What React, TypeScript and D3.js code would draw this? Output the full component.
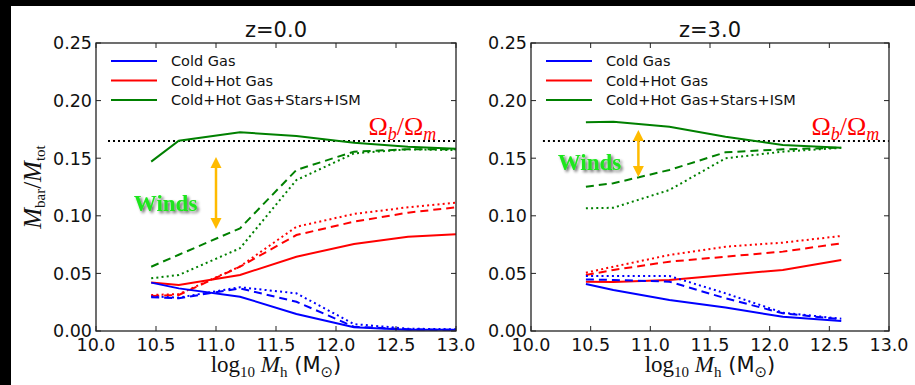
import React from "react";
import * as d3 from "d3";

const WIDTH = 915;
const HEIGHT = 385;

// Halo-mass bins (log10 Mh) for each redshift
const massBinsZ0 = [10.46, 10.69, 11.2, 11.67, 12.15, 12.6, 13.0];
const massBinsZ3 = [10.46, 10.69, 11.16, 11.63, 12.11, 12.6];

// z = 0.0 baryon fractions: solid = no winds, dashed / dotted = wind models
const coldSolidZ0 = [0.042, 0.037, 0.0298, 0.0148, 0.0032, 0.001, 0.001];
const coldDashedZ0 = [0.0293, 0.0284, 0.037, 0.0254, 0.0037, 0.0015, 0.001];
const coldDottedZ0 = [0.03, 0.029, 0.038, 0.0327, 0.006, 0.002, 0.0015];
const gasSolidZ0 = [0.042, 0.0399, 0.0486, 0.0645, 0.0755, 0.0819, 0.0839];
const gasDashedZ0 = [0.0304, 0.0313, 0.0558, 0.0833, 0.0949, 0.1027, 0.1074];
const gasDottedZ0 = [0.0313, 0.032, 0.056, 0.0905, 0.1016, 0.1074, 0.1114];
const totalSolidZ0 = [0.147, 0.1652, 0.1725, 0.1693, 0.1635, 0.16, 0.1583];
const totalDashedZ0 = [0.0558, 0.0662, 0.0891, 0.1398, 0.1557, 0.1577, 0.1577];
const totalDottedZ0 = [0.0457, 0.0486, 0.0718, 0.131, 0.1542, 0.1577, 0.157];

// z = 3.0 baryon fractions
const coldSolidZ3 = [0.0408, 0.0356, 0.0269, 0.0203, 0.0124, 0.0087];
const coldDashedZ3 = [0.0448, 0.0443, 0.0428, 0.0284, 0.0154, 0.0101];
const coldDottedZ3 = [0.0477, 0.0477, 0.0477, 0.0327, 0.0159, 0.0107];
const gasSolidZ3 = [0.0428, 0.0426, 0.0443, 0.0486, 0.053, 0.0616];
const gasDashedZ3 = [0.0486, 0.053, 0.0602, 0.0645, 0.0689, 0.0761];
const gasDottedZ3 = [0.0506, 0.0558, 0.066, 0.0732, 0.0767, 0.0825];
const totalSolidZ3 = [0.1811, 0.1817, 0.1773, 0.1687, 0.1615, 0.159];
const totalDashedZ3 = [0.1253, 0.1282, 0.1398, 0.1551, 0.1577, 0.1591];
const totalDottedZ3 = [0.1065, 0.107, 0.1224, 0.1499, 0.1557, 0.159];

const xTicks = [10.0, 10.5, 11.0, 11.5, 12.0, 12.5, 13.0];
const yTicks = [0.0, 0.05, 0.1, 0.15, 0.2, 0.25];
const legendLabels = ["Cold Gas", "Cold+Hot Gas", "Cold+Hot Gas+Stars+ISM"];
const legendColors = ["#0000ff", "#ff0000", "#008000"];

const OMEGA_RATIO = 0.165;
const OMEGA_LINE_START = 10.1;

// Annotation anchors in data coordinates: [log Mh, fraction]
const windsTextZ0 = [10.58, 0.104];
const windsTextZ3 = [10.49, 0.14];
const windsArrowZ0 = [11.0, 0.151, 0.0885];
const windsArrowZ3 = [10.9, 0.1745, 0.1337];
const omegaLabelZ0 = [12.27, 0.17];
const omegaLabelZ3 = [12.35, 0.17];

const SANS = "'DejaVu Sans', sans-serif";
const SERIF = "'Liberation Serif', 'DejaVu Serif', serif";
const DASH = "8,5";
const DOT = "2,3.2";
const ARROW_COLOR = "#ffbb00";

type Series = { values: number[]; color: string; dash?: string };

type PanelProps = {
  x0: number;
  x1: number;
  title: string;
  bins: number[];
  series: Series[];
  windsText: number[];
  windsArrow: number[];
  omegaLabel: number[];
};

const TOP = 43;
const BOTTOM = 331;

function Panel({ x0, x1, title, bins, series, windsText, windsArrow, omegaLabel }: PanelProps) {
  const x = d3.scaleLinear().domain([10, 13]).range([x0, x1]);
  const y = d3.scaleLinear().domain([0, 0.25]).range([BOTTOM, TOP]);
  const tick = 5;
  const fmtX = d3.format(".1f");
  const fmtY = d3.format(".2f");

  const line = d3
    .line<number>()
    .x((_, i) => x(bins[i]))
    .y((d) => y(d));

  const ax = x(windsArrow[0]);
  const ayTop = y(windsArrow[1]);
  const ayBot = y(windsArrow[2]);
  const headL = 11;
  const headW = 5.5;

  return (
    <g>
      {/* reference line for the cosmic baryon fraction */}
      <line
        x1={x(OMEGA_LINE_START)}
        x2={x(13)}
        y1={y(OMEGA_RATIO)}
        y2={y(OMEGA_RATIO)}
        stroke="#000"
        strokeWidth={2}
        strokeDasharray="2,3"
      />

      {series.map((s, i) => (
        <path
          key={i}
          d={line(s.values) || ""}
          fill="none"
          stroke={s.color}
          strokeWidth={2}
          strokeDasharray={s.dash}
        />
      ))}

      {/* frame */}
      <rect x={x0} y={TOP} width={x1 - x0} height={BOTTOM - TOP} fill="none" stroke="#222" strokeWidth={1.3} />

      {xTicks.map((t) => (
        <g key={"x" + t}>
          <line x1={x(t)} x2={x(t)} y1={BOTTOM} y2={BOTTOM - tick} stroke="#222" strokeWidth={1} />
          <line x1={x(t)} x2={x(t)} y1={TOP} y2={TOP + tick} stroke="#222" strokeWidth={1} />
          <text x={x(t)} y={BOTTOM + 19.5} textAnchor="middle" fontFamily={SANS} fontSize={17.5} fill="#111">
            {fmtX(t)}
          </text>
        </g>
      ))}
      {yTicks.map((t) => (
        <g key={"y" + t}>
          <line x1={x0} x2={x0 + tick} y1={y(t)} y2={y(t)} stroke="#222" strokeWidth={1} />
          <line x1={x1} x2={x1 - tick} y1={y(t)} y2={y(t)} stroke="#222" strokeWidth={1} />
          <text x={x0 - 4} y={y(t)} dy="0.36em" textAnchor="end" fontFamily={SANS} fontSize={17.5} fill="#111">
            {fmtY(t)}
          </text>
        </g>
      ))}

      <text x={(x0 + x1) / 2} y={36.5} textAnchor="middle" fontFamily={SANS} fontSize={21} fill="#111">
        {title}
      </text>

      {/* legend */}
      {legendLabels.map((lab, i) => (
        <g key={lab}>
          <line
            x1={x0 + 15}
            x2={x0 + 61}
            y1={TOP + 18 + i * 19.5}
            y2={TOP + 18 + i * 19.5}
            stroke={legendColors[i]}
            strokeWidth={2}
          />
          <text x={x0 + 75} y={TOP + 18 + i * 19.5 + 5} fontFamily={SANS} fontSize={14.5} fill="#111">
            {lab}
          </text>
        </g>
      ))}

      {/* Omega_b / Omega_m */}
      <text x={x(omegaLabel[0])} y={y(omegaLabel[1])} fontFamily={SERIF} fontSize={26} fill="#ff0000">
        Ω
        <tspan fontStyle="italic" fontSize={18} dy={5}>
          b
        </tspan>
        <tspan dy={-5}>/Ω</tspan>
        <tspan fontStyle="italic" fontSize={18} dy={5}>
          m
        </tspan>
      </text>

      {/* winds annotation */}
      <text
        x={x(windsText[0])}
        y={y(windsText[1])}
        textAnchor="middle"
        fontFamily={SERIF}
        fontWeight="bold"
        fontSize={23}
        fill="#1ee61e"
        filter="url(#windsShadow)"
      >
        Winds
      </text>
      <line x1={ax} x2={ax} y1={ayTop + headL - 1} y2={ayBot - headL + 1} stroke={ARROW_COLOR} strokeWidth={2.5} />
      <polygon
        points={`${ax},${ayTop} ${ax - headW},${ayTop + headL} ${ax + headW},${ayTop + headL}`}
        fill={ARROW_COLOR}
      />
      <polygon
        points={`${ax},${ayBot} ${ax - headW},${ayBot - headL} ${ax + headW},${ayBot - headL}`}
        fill={ARROW_COLOR}
      />

      {/* x label */}
      <text x={(x0 + x1) / 2} y={372} textAnchor="middle" fontFamily={SERIF} fontSize={23} fill="#111">
        log
        <tspan fontSize={15} dy={5}>10</tspan>
        <tspan dy={-5} fontStyle="italic"> M</tspan>
        <tspan fontSize={15} dy={5}>h</tspan>
        <tspan dy={-5} fontFamily={SANS} fontSize={21}> (M</tspan>
        <tspan fontFamily={SANS} fontSize={15} dy={5}>⊙</tspan>
        <tspan fontFamily={SANS} fontSize={21} dy={-5}>)</tspan>
      </text>
    </g>
  );
}

function makeSeries(cold: number[][], gas: number[][], total: number[][]): Series[] {
  const styles = [undefined, DASH, DOT];
  const out: Series[] = [];
  [total, gas, cold].forEach((group, gi) => {
    const color = legendColors[2 - gi];
    group.forEach((values, si) => out.push({ values, color, dash: styles[si] }));
  });
  return out;
}

export default function App() {
  const seriesZ0 = makeSeries(
    [coldSolidZ0, coldDashedZ0, coldDottedZ0],
    [gasSolidZ0, gasDashedZ0, gasDottedZ0],
    [totalSolidZ0, totalDashedZ0, totalDottedZ0]
  );
  const seriesZ3 = makeSeries(
    [coldSolidZ3, coldDashedZ3, coldDottedZ3],
    [gasSolidZ3, gasDashedZ3, gasDottedZ3],
    [totalSolidZ3, totalDashedZ3, totalDottedZ3]
  );

  return (
    <svg
      width={WIDTH}
      height={HEIGHT}
      style={{ position: "absolute", left: 0, top: 0, display: "block" }}
      xmlns="http://www.w3.org/2000/svg"
    >
      <defs>
        <filter id="windsShadow" x="-20%" y="-40%" width="140%" height="180%">
          <feGaussianBlur in="SourceAlpha" stdDeviation="1.6" result="blur" />
          <feOffset in="blur" dx="2" dy="2" result="off" />
          <feComponentTransfer in="off" result="shadow">
            <feFuncA type="linear" slope="0.6" />
          </feComponentTransfer>
          <feMerge>
            <feMergeNode in="shadow" />
            <feMergeNode in="SourceGraphic" />
          </feMerge>
        </filter>
      </defs>
      <rect x={0} y={0} width={WIDTH} height={HEIGHT} fill="#000" />
      <rect x={11} y={6} width={WIDTH - 11} height={HEIGHT - 6} fill="#fff" />

      <Panel
        x0={96}
        x1={456}
        title="z=0.0"
        bins={massBinsZ0}
        series={seriesZ0}
        windsText={windsTextZ0}
        windsArrow={windsArrowZ0}
        omegaLabel={omegaLabelZ0}
      />
      <Panel
        x0={531}
        x1={889}
        title="z=3.0"
        bins={massBinsZ3}
        series={seriesZ3}
        windsText={windsTextZ3}
        windsArrow={windsArrowZ3}
        omegaLabel={omegaLabelZ3}
      />

      {/* y label */}
      <text
        transform="translate(41,187) rotate(-90)"
        textAnchor="middle"
        fontFamily={SERIF}
        fontSize={25}
        fill="#111"
      >
        <tspan fontStyle="italic">M</tspan>
        <tspan fontSize={15} dy={4}>bar</tspan>
        <tspan dy={-4}>/</tspan>
        <tspan fontStyle="italic">M</tspan>
        <tspan fontSize={15} dy={4}>tot</tspan>
      </text>
    </svg>
  );
}
